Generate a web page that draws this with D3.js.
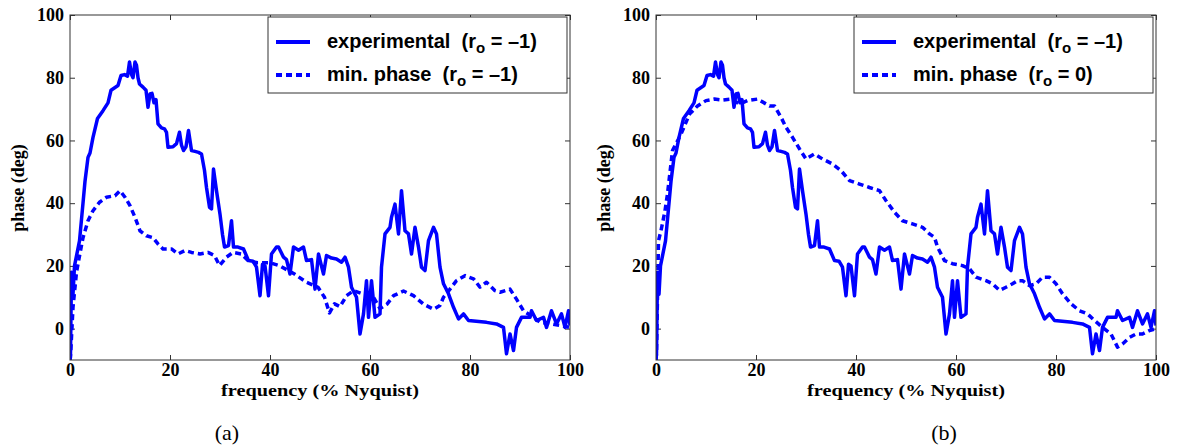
<!DOCTYPE html>
<html>
<head>
<meta charset="utf-8">
<script src="https://cdnjs.cloudflare.com/ajax/libs/d3/7.8.5/d3.min.js"></script>
<style>
  html, body { margin: 0; padding: 0; background: #fff; }
  svg { display: block; }
  text { white-space: pre; }
</style>
</head>
<body>
<svg id="chart" width="1179" height="447"></svg>
<script>
// ---- data ----
const xTicks = [0, 20, 40, 60, 80, 100];
const yTicks = [0, 20, 40, 60, 80, 100];

const expFreq = [0,0.1,0.3,0.6,0.9,1.9,2.6,3.0,3.6,4.0,4.6,5.5,6.6,7.6,8.2,9.6,10.2,10.9,11.5,11.9,12.3,12.6,13.0,13.3,13.6,13.9,14.6,15.2,15.6,16.0,16.4,16.8,17.2,17.6,18.3,18.9,19.3,19.6,20.6,21.3,21.9,22.3,22.7,23.2,23.7,24.3,25.0,25.7,26.3,26.9,27.3,27.9,28.3,28.7,29.3,30.0,30.5,30.9,31.7,32.3,32.7,33.6,34.7,35.7,36.6,37.3,38.0,38.5,39.0,39.7,40.3,41.3,41.7,42.7,43.3,44.0,44.7,45.7,46.7,47.3,48.3,49.0,49.7,50.7,51.3,52.3,53.3,54.3,55.0,55.7,56.3,57.3,58.0,58.7,59.3,59.7,60.3,61.0,62.0,62.3,63.0,64.0,64.3,65.0,65.7,66.3,67.0,67.7,68.3,69.0,69.7,70.3,71.0,71.7,72.7,73.3,74.0,74.7,75.7,76.7,77.7,78.7,79.7,83.3,85.3,86.7,87.3,88.0,88.7,89.3,90.3,92.0,92.3,93.3,94.7,95.3,96.3,97.3,98.3,99.0,99.7,100];
const expPhase = [-10,-8,18,11,20,28,40,47,54.6,56,61,67,69.5,72,76,77.5,80.7,81,80.5,85,81,80,85,84,80,78,77,76,70.6,74.8,75,72,73,65.3,64,63.7,62.6,57.8,58,59,62.6,58.5,56.8,58,63.2,56.8,56.5,56.2,55.7,50.4,45,38.7,38.2,50.9,44,36.5,30,26,26.5,34.4,26,26,25.4,21.7,21.5,19.6,10.5,20.5,20,10.5,23.8,26,26,22.8,22,17.4,26,25,26,21.7,22,12.6,23.8,17.4,23.3,22.5,22.2,21.2,22.8,19.6,13.2,10,-1.7,4.7,15.3,3.6,15.3,3.6,4.7,19.6,30.2,32.3,35.5,39.7,30.2,44,31.2,30.2,23.8,32.3,26,19.6,18.5,28.1,32.3,30.2,19.6,14.3,11.1,6.8,3.1,4.7,2.6,2,1.5,0.4,-8,-1.7,-7,0.4,3.6,3.6,5.7,2.6,3.6,0.4,5.7,1.5,4.7,0.4,5.7,1];

const minFreqA = [0,0.1,0.6,1.3,2.0,2.6,3.6,4.6,5.9,7.3,9,10,11,12,13,14,15.3,16.6,17.6,18.6,20.3,21.6,23,24.3,26,27.6,28.9,29.9,31.3,32.6,34.3,35.6,37.5,40,42,44.9,47.3,49.6,50.9,51.9,52.9,54,55.3,56.7,58.7,60.7,62,63.4,64.7,66.7,68.7,70.7,72.7,74,74.7,76,77.3,79,80.7,82,83.3,85,86,88,89.3,90.7,92.7,94,96.3,100];
const minPhaseA = [-10,-9,6.8,18,24,29,34.4,37.6,40.3,41.9,42.4,44,41.9,39.2,35.5,31.2,29.6,29,27,25.4,25.4,23.8,24.9,24.3,23.8,24.3,23.3,20.1,22.8,24.3,23.8,21.7,21,21,20,17.4,14.8,13.2,10,5,7.9,7,10.5,12.1,11,10,6.4,7.8,10.5,12,10.5,7.8,6.2,7.4,10,12.6,15.3,16.9,15.9,13.2,14.8,12.1,11.6,12.6,9.4,5.7,3.6,2,1.5,0.4];

const minFreqB = [0,0.1,0.5,1.1,1.8,2.3,3.3,5,6.7,8.3,10,11.7,13.3,15,16.7,18.3,20.3,22.7,23.7,25,26,27.3,28.7,30,31.7,33.3,35.3,37,38.7,40.7,42.7,44.7,46,47.7,49.3,51.3,53.3,54.7,55.7,56.3,57.7,59.3,61.3,62.7,64,66,67.3,68.7,70,71.3,72.3,73.3,74.7,76,77.3,78.7,80,81.3,83,84.7,86.3,87.7,89.3,91,92.3,93.3,94.7,96,97.3,98.7,100];
const minPhaseB = [-10,-8,28,32,37.6,43,56.8,62,68.4,71,72.7,73.2,72.9,73.2,71.6,72.7,73.2,71,71,67.4,64.2,61,57.3,54.1,55.7,54.1,52.5,50.4,47.2,46.1,45,44,40.8,37.1,34.4,33.4,32.3,30.2,29.1,26,21.7,20.7,20.1,19.1,16.4,15.3,14.3,12.2,13.2,14.3,15.3,15.3,13.7,14.3,16.4,16.4,14.3,11.1,7.9,5.7,4.7,2.6,0.4,-1.7,-5.9,-4.9,-2.8,-1.7,-1.7,-0.6,0];

const legendA = ["experimental  (r", "o", " = –1)", "min. phase  (r", "o", " = –1)"];
const legendB = ["experimental  (r", "o", " = –1)", "min. phase  (r", "o", " = 0)"];
const xLabel = "frequency (% Nyquist)";
const yLabel = "phase (deg)";
const captions = ["(a)", "(b)"];

// ---- drawing ----
const svg = d3.select("#chart");
const BLUE = "#0000ff";
const FRAME = "#333";
const plotTop = 15, plotBottom = 360, W = 500;

function panel(x0, minF, minP, legend, caption, capX, idx) {
  const x = d3.scaleLinear().domain([0, 100]).range([x0, x0 + W]);
  const y = d3.scaleLinear().domain([-10, 100]).range([plotBottom, plotTop]);
  const g = svg.append("g");

  const clipId = "clip" + idx;
  svg.append("clipPath").attr("id", clipId).append("rect")
    .attr("x", x0).attr("y", plotTop).attr("width", W).attr("height", plotBottom - plotTop);

  const tickFont = s => s.selectAll("text")
    .attr("font-family", "'Liberation Serif', 'Times New Roman', serif")
    .attr("font-weight", "bold").attr("font-size", 18).attr("fill", "#000");
  const clean = s => { s.select(".domain").remove(); s.selectAll("line").attr("stroke", FRAME); };

  g.append("g").attr("transform", `translate(0,${plotBottom})`)
    .call(d3.axisBottom(x).tickValues(xTicks).tickSize(-5).tickPadding(3).tickFormat(d3.format("d")))
    .call(clean).call(tickFont);
  g.append("g").attr("transform", `translate(0,${plotTop})`)
    .call(d3.axisTop(x).tickValues(xTicks).tickSize(-5).tickFormat(""))
    .call(clean);
  g.append("g").attr("transform", `translate(${x0},0)`)
    .call(d3.axisLeft(y).tickValues(yTicks).tickSize(-5).tickPadding(6).tickFormat(d3.format("d")))
    .call(clean).call(tickFont);
  g.append("g").attr("transform", `translate(${x0 + W},0)`)
    .call(d3.axisRight(y).tickValues(yTicks).tickSize(-5).tickFormat(""))
    .call(clean);

  const line = d3.line().x(d => x(d[0])).y(d => y(d[1]));
  const expData = expFreq.map((f, i) => [f, expPhase[i]]);
  const minData = minF.map((f, i) => [f, minP[i]]);

  const lines = g.append("g").attr("clip-path", `url(#${clipId})`);
  lines.append("path").datum(minData).attr("d", line)
    .attr("fill", "none").attr("stroke", BLUE).attr("stroke-width", 3.5)
    .attr("stroke-dasharray", "6,4").attr("stroke-linejoin", "round");
  lines.append("path").datum(expData).attr("d", line)
    .attr("fill", "none").attr("stroke", BLUE).attr("stroke-width", 3.5)
    .attr("stroke-linejoin", "round");

  g.append("rect").attr("x", x0).attr("y", plotTop).attr("width", W).attr("height", plotBottom - plotTop)
    .attr("fill", "none").attr("stroke", FRAME).attr("stroke-width", 1);

  // legend
  const lx = x0 + 198, ly = 17, lw = 299, lh = 76;
  const lg = g.append("g");
  lg.append("rect").attr("x", lx).attr("y", ly).attr("width", lw).attr("height", lh)
    .attr("fill", "#fff").attr("stroke", FRAME).attr("stroke-width", 1);
  const rows = [[legend[0], legend[1], legend[2], null], [legend[3], legend[4], legend[5], "6,4"]];
  rows.forEach((r, i) => {
    const yy = ly + 25 + i * 33;
    lg.append("line").attr("x1", lx + 8).attr("x2", lx + 42).attr("y1", yy).attr("y2", yy)
      .attr("stroke", BLUE).attr("stroke-width", 4)
      .attr("stroke-dasharray", r[3]);
    const t = lg.append("text").attr("x", lx + 59).attr("y", yy + 6)
      .attr("font-family", "'Liberation Sans', Arial, Helvetica, sans-serif")
      .attr("font-weight", "bold").attr("font-size", 20).attr("fill", "#000");
    t.append("tspan").text(r[0]);
    t.append("tspan").attr("dy", 5).attr("font-size", 15).text(r[1]);
    t.append("tspan").attr("dy", -5).text(r[2]);
  });

  g.append("text").attr("x", x0 + W / 2).attr("y", 396).attr("text-anchor", "middle")
    .attr("font-family", "'Liberation Serif', 'Times New Roman', serif")
    .attr("font-weight", "bold").attr("font-size", 16)
    .attr("textLength", 198).attr("lengthAdjust", "spacingAndGlyphs")
    .text(xLabel);
  g.append("text").attr("transform", `translate(${x0 - 46},188) rotate(-90)`)
    .attr("text-anchor", "middle")
    .attr("font-family", "'Liberation Serif', 'Times New Roman', serif")
    .attr("font-weight", "bold").attr("font-size", 18)
    .text(yLabel);

  g.append("text").attr("x", capX).attr("y", 440).attr("text-anchor", "middle")
    .attr("font-family", "'Liberation Serif', 'Times New Roman', serif")
    .attr("font-size", 22).text(caption);
}

panel(70, minFreqA, minPhaseA, legendA, captions[0], 227, 0);
panel(656, minFreqB, minPhaseB, legendB, captions[1], 944, 1);
</script>
</body>
</html>
